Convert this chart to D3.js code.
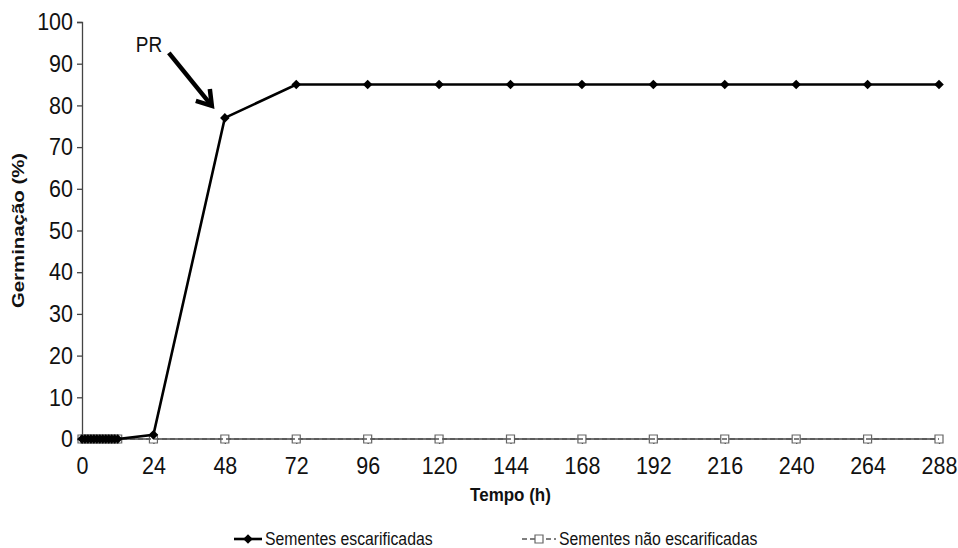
<!DOCTYPE html>
<html>
<head>
<meta charset="utf-8">
<script src="https://cdn.jsdelivr.net/npm/d3@7"></script>
<style>
  html, body { margin: 0; padding: 0; background: #fff; }
  svg { display: block; font-family: "Liberation Sans", Arial, sans-serif; }
</style>
</head>
<body>
<svg id="chart" width="958" height="548"></svg>
<script>
// Germination time course (hours) for scarified and non-scarified seeds
const tempoHoras = [0, 1, 2, 3, 4, 5, 6, 7, 8, 9, 10, 11, 12,
  24, 48, 72, 96, 120, 144, 168, 192, 216, 240, 264, 288];
const sementesEscarificadas = [0, 0, 0, 0, 0, 0, 0, 0, 0, 0, 0, 0, 0,
  1, 77, 85, 85, 85, 85, 85, 85, 85, 85, 85, 85];
const sementesNaoEscarificadas = [0, 0, 0, 0, 0, 0, 0, 0, 0, 0, 0, 0, 0,
  0, 0, 0, 0, 0, 0, 0, 0, 0, 0, 0, 0];
const xTicks = [0, 24, 48, 72, 96, 120, 144, 168, 192, 216, 240, 264, 288];
const yTicks = [0, 10, 20, 30, 40, 50, 60, 70, 80, 90, 100];
const seriesNames = ["Sementes escarificadas", "Sementes não escarificadas"];
const annotation = { label: "PR", tempo: 48, valor: 77 };

const svg = d3.select("#chart");
const margin = { left: 82, right: 19, top: 22, bottom: 109 };
const W = 958, H = 548;
const TALL = 1.12; // glyphs are drawn slightly taller than wide

const x = d3.scaleLinear().domain([0, 288]).range([margin.left, W - margin.right]);
const y = d3.scaleLinear().domain([0, 100]).range([H - margin.bottom, margin.top]);

// Axes
const yAxis = svg.append("g")
  .attr("transform", `translate(${margin.left},0)`)
  .call(d3.axisLeft(y).tickValues(yTicks).tickSize(5).tickPadding(4));
const xAxis = svg.append("g")
  .attr("transform", `translate(0,${y(0)})`)
  .call(d3.axisBottom(x).tickValues(xTicks).tickSize(5).tickPadding(11));

[yAxis, xAxis].forEach(g => {
  g.select(".domain").attr("stroke", "#444").attr("stroke-width", 1.3);
  g.selectAll(".tick line").attr("stroke", "#444").attr("stroke-width", 1.3);
  g.selectAll(".tick text")
    .attr("fill", "#111")
    .attr("transform", `scale(1,${TALL})`)
    .style("font-size", "21.5px")
    .style("font-family", "'Liberation Sans', Arial, sans-serif");
});
xAxis.select(".domain").attr("d", `M${x(0)},0H${x(288)}`);

// Axis titles
svg.append("text")
  .attr("transform", `translate(24,${y(50)}) rotate(-90) scale(${TALL + 0.08},1)`)
  .attr("text-anchor", "middle")
  .style("font-size", "17px").style("font-weight", "bold").attr("fill", "#111")
  .text("Germinação (%)");
svg.append("text")
  .attr("transform", `translate(${x(144)},501) scale(1,${TALL})`)
  .attr("text-anchor", "middle")
  .style("font-size", "17px").style("font-weight", "bold").attr("fill", "#111")
  .text("Tempo (h)");

const line = d3.line().x(d => x(d[0])).y(d => y(d[1]));
const dataA = tempoHoras.map((t, i) => [t, sementesEscarificadas[i]]);
const dataB = tempoHoras.map((t, i) => [t, sementesNaoEscarificadas[i]]);

const square = d3.symbol().type(d3.symbolSquare).size(64);
const diamond = d3.symbol().type(d3.symbolSquare).size(46);

// Non-scarified series: dashed grey line with hollow squares
svg.append("g").selectAll("path").data(dataB).join("path")
  .attr("transform", d => `translate(${x(d[0])},${y(d[1])})`)
  .attr("d", square)
  .attr("fill", "#fff").attr("stroke", "#666").attr("stroke-width", 1.2);
svg.append("path").datum(dataB)
  .attr("fill", "none").attr("stroke", "#555").attr("stroke-width", 1.6)
  .attr("stroke-dasharray", "5,3")
  .attr("d", line);

// Scarified series: solid black line with filled diamonds
svg.append("path").datum(dataA)
  .attr("fill", "none").attr("stroke", "#000").attr("stroke-width", 2.6)
  .attr("d", line);
svg.append("g").selectAll("path").data(dataA).join("path")
  .attr("transform", d => `translate(${x(d[0])},${y(d[1])}) rotate(45)`)
  .attr("d", diamond)
  .attr("fill", "#000");

// Annotation arrow pointing at the 48 h point
const tip = [x(annotation.tempo) - 13, y(annotation.valor) - 12];
const tail = [tip[0] - 43, tip[1] - 53];
svg.append("line")
  .attr("x1", tail[0]).attr("y1", tail[1]).attr("x2", tip[0] - 2).attr("y2", tip[1] - 2.5)
  .attr("stroke", "#000").attr("stroke-width", 4.5);
svg.append("path")
  .attr("d", `M${tip[0] - 16},${tip[1] - 5} L${tip[0]},${tip[1]} L${tip[0] - 2},${tip[1] - 17}`)
  .attr("fill", "none").attr("stroke", "#000").attr("stroke-width", 4.5)
  .attr("stroke-linejoin", "miter");
svg.append("text")
  .attr("transform", `translate(${tail[0] - 33},${tail[1] - 1}) scale(1,${TALL})`)
  .style("font-size", "19px").attr("fill", "#111")
  .text(annotation.label);

// Legend
const legY = 539;
const leg = svg.append("g");
leg.append("line").attr("x1", 234).attr("x2", 262).attr("y1", legY).attr("y2", legY)
  .attr("stroke", "#000").attr("stroke-width", 2.6);
leg.append("path").attr("transform", `translate(248,${legY}) rotate(45)`)
  .attr("d", diamond).attr("fill", "#000");
leg.append("text").attr("transform", `translate(265,${legY + 6}) scale(1,${TALL + 0.08})`)
  .style("font-size", "15.8px").attr("fill", "#111").text(seriesNames[0]);

leg.append("line").attr("x1", 522).attr("x2", 556).attr("y1", legY).attr("y2", legY)
  .attr("stroke", "#555").attr("stroke-width", 1.6).attr("stroke-dasharray", "5,3");
leg.append("path").attr("transform", `translate(539,${legY})`)
  .attr("d", square).attr("fill", "#fff").attr("stroke", "#666").attr("stroke-width", 1.2);
leg.append("text").attr("transform", `translate(559,${legY + 6}) scale(1,${TALL + 0.08})`)
  .style("font-size", "15.8px").attr("fill", "#111").text(seriesNames[1]);
</script>
</body>
</html>
